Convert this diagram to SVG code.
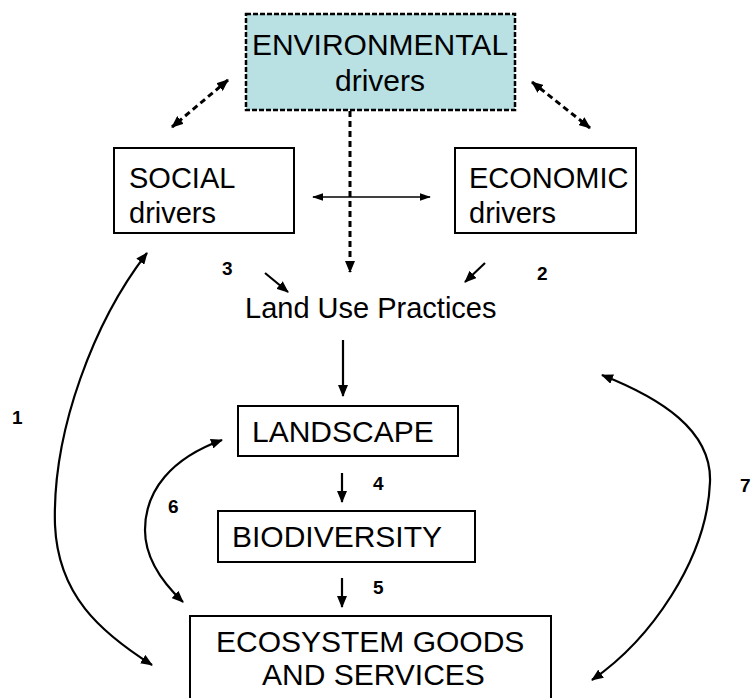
<svg xmlns="http://www.w3.org/2000/svg" width="754" height="698" viewBox="0 0 754 698">
<defs>
<marker id="ah" viewBox="0 0 12 10" refX="11" refY="5" markerWidth="12" markerHeight="10" markerUnits="userSpaceOnUse" orient="auto-start-reverse">
<path d="M0,0 L12,5 L0,10 z" fill="#000"/>
</marker>
<marker id="ahs" viewBox="0 0 12 8" refX="11" refY="4" markerWidth="11" markerHeight="8" markerUnits="userSpaceOnUse" orient="auto-start-reverse">
<path d="M0,0 L12,4 L0,8 z" fill="#000"/>
</marker>
</defs>
<style>
.box{fill:#fff;stroke:#000;stroke-width:2}
.env{fill:#b9e0e3;stroke:#000;stroke-width:2.5;stroke-dasharray:5 2}
.t{font-family:"Liberation Sans",Arial,sans-serif;font-size:29px;fill:#000}
.t30{font-family:"Liberation Sans",Arial,sans-serif;font-size:30px;fill:#000}
.n{font-family:"Liberation Sans",Arial,sans-serif;font-size:19px;font-weight:bold;fill:#000}
.c{fill:none;stroke:#000;stroke-width:2.2}
.d{fill:none;stroke:#000;stroke-width:3;stroke-dasharray:6 4}
.thin{fill:none;stroke:#000;stroke-width:1.3}
</style>
<rect width="754" height="698" fill="#fff"/>
<g id="environmental">
<rect class="env" x="246" y="14" width="269" height="96"/>
<text class="t30" x="380" y="55" text-anchor="middle">ENVIRONMENTAL</text>
<text class="t30" x="380" y="91" text-anchor="middle">drivers</text>
</g>
<g id="social">
<rect class="box" x="114" y="148" width="180" height="85"/>
<text class="t" x="129" y="188">SOCIAL</text>
<text class="t" x="129" y="223">drivers</text>
</g>
<g id="economic">
<rect class="box" x="455" y="148" width="181" height="85"/>
<text class="t" x="469" y="188">ECONOMIC</text>
<text class="t" x="469" y="223">drivers</text>
</g>
<g id="landuse">
<text class="t" x="245" y="318">Land Use Practices</text>
</g>
<g id="landscape">
<rect class="box" x="238" y="406" width="220" height="50"/>
<text class="t30" x="252" y="442">LANDSCAPE</text>
</g>
<g id="biodiversity">
<rect class="box" x="218" y="511" width="257" height="51"/>
<text class="t30" x="232" y="547">BIODIVERSITY</text>
</g>
<g id="ecosystem">
<rect class="box" x="190" y="616" width="361" height="100"/>
<text class="t30" x="216" y="652">ECOSYSTEM GOODS</text>
<text class="t30" x="262" y="685">AND SERVICES</text>
</g>
<g id="connectors">
<line class="d" x1="350" y1="111" x2="350" y2="272" marker-end="url(#ah)"/>
<line class="d" x1="228" y1="80" x2="172" y2="127" marker-start="url(#ah)" marker-end="url(#ah)"/>
<line class="d" x1="532" y1="82" x2="590" y2="128" marker-start="url(#ah)" marker-end="url(#ah)"/>
<line class="thin" x1="313" y1="197" x2="430" y2="197" marker-start="url(#ahs)" marker-end="url(#ahs)"/>
<line class="c" x1="265" y1="273" x2="288" y2="292" marker-end="url(#ah)"/>
<line class="c" x1="485" y1="263" x2="465" y2="282" marker-end="url(#ah)"/>
<line class="c" x1="343" y1="340" x2="343" y2="396" marker-end="url(#ah)"/>
<line class="c" x1="342" y1="473" x2="342" y2="502" marker-end="url(#ah)"/>
<line class="c" x1="342" y1="578" x2="342" y2="607" marker-end="url(#ah)"/>
<path class="c" d="M147,253 C95,320 52,430 55,525 C58,595 100,632 152,665" marker-start="url(#ah)" marker-end="url(#ah)"/>
<path class="c" d="M222,440 C172,458 145,490 145,530 C145,560 165,585 183,602" marker-start="url(#ah)" marker-end="url(#ah)"/>
<path class="c" d="M602,375 C660,398 712,430 710,482 C707,560 650,640 592,680" marker-start="url(#ah)" marker-end="url(#ah)"/>
</g>
<g id="labels">
<text class="n" x="12" y="424">1</text>
<text class="n" x="537" y="280">2</text>
<text class="n" x="222" y="275">3</text>
<text class="n" x="373" y="490">4</text>
<text class="n" x="373" y="594">5</text>
<text class="n" x="168" y="513">6</text>
<text class="n" x="740" y="492">7</text>
</g>
</svg>
